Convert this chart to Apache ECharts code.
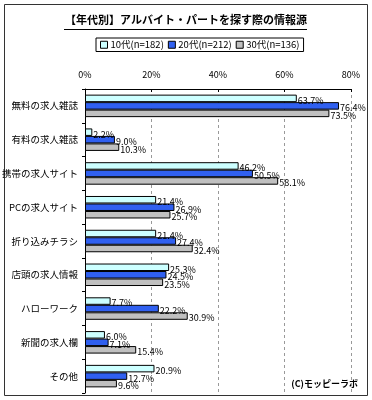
<!DOCTYPE html>
<html><head><meta charset="utf-8">
<script src="https://cdn.jsdelivr.net/npm/echarts@6/dist/echarts.min.js"></script>
<style>html,body{margin:0;padding:0;background:#fff;}#c{width:372px;height:400px;}</style>
</head><body><div id="c"></div>
<script>
var categories = ['無料の求人雑誌','有料の求人雑誌','携帯の求人サイト','PCの求人サイト','折り込みチラシ','店頭の求人情報','ハローワーク','新聞の求人欄','その他'];
var seriesNames = ['10代(n=182)','20代(n=212)','30代(n=136)'];
var teens = [63.7,2.2,46.2,21.4,21.4,25.3,7.7,6.0,20.9];
var twenties = [76.4,9.0,50.5,26.9,27.4,24.5,22.2,7.1,12.7];
var thirties = [73.5,10.3,58.1,25.7,32.4,23.5,30.9,15.4,9.6];
var xTicks = [0,20,40,60,80];

var FONT = '"Noto Sans CJK JP", sans-serif';
var colors = ['#CCFFFF','#3060F0','#C0C0C0'];
var chart = echarts.init(document.getElementById('c'), null, {renderer:'canvas'});
function mk(name, data, color){
  return {
    name: name, type:'bar', data: data, barWidth: 7.5, barGap: '0%',
    itemStyle:{color: color, borderColor:'#000', borderWidth:1},
    label:{show:true, position:'right', distance:1, offset:[0,2], fontSize:9, fontFamily:FONT, color:'#000',
      formatter:function(p){return p.value.toFixed(1)+'%';}},
    animation:false
  };
}
chart.setOption({
  backgroundColor:'#fff',
  animation:false,
  textStyle:{fontFamily:FONT},
  graphic:[
    {type:'rect', shape:{x:4.5,y:4.5,width:363,height:391}, style:{fill:'none', stroke:'#333', lineWidth:1}, z:-1},
    {type:'text', left:'center', top:14, style:{text:'【年代別】アルバイト・パートを探す際の情報源', font:'bold 11px '+FONT, fill:'#000'}},
    {type:'line', shape:{x1:64,y1:29.5,x2:307,y2:29.5}, style:{stroke:'#000', lineWidth:1}},
    {type:'text', right:14, top:379, style:{text:'(C)モッピーラボ', font:'bold 9px '+FONT, fill:'#000'}}
  ],
  legend:{
    top:38, left:96, itemWidth:7, itemHeight:7, itemGap:4,
    padding:[2,4,2,4], borderColor:'#000', borderWidth:1,
    textStyle:{fontSize:9.5, fontFamily:FONT, color:'#000', padding:[0,0,0,-2]},
    data: seriesNames.map(function(n,i){return {name:n, icon:'rect', itemStyle:{borderColor:'#000',borderWidth:1}};})
  },
  grid:{left:85, right:21, top:89, bottom:7, containLabel:false, outerBoundsMode:'none'},
  xAxis:{
    type:'value', position:'top', min:0, max:80, interval:20,
    axisLine:{show:true, lineStyle:{color:'#000'}},
    axisTick:{show:true, inside:true, length:3, lineStyle:{color:'#000'}},
    axisLabel:{fontSize:9, color:'#000', fontFamily:FONT, margin:10, formatter:function(v){return xTicks.indexOf(v)>=0 ? v+'%' : '';}},
    splitLine:{show:true, lineStyle:{color:'#999', type:[3,3]}}
  },
  yAxis:{
    type:'category', data:categories, inverse:true,
    axisLine:{show:true, lineStyle:{color:'#000'}},
    axisTick:{show:true, length:3, lineStyle:{color:'#000'}},
    axisLabel:{fontSize:9.5, color:'#000', fontFamily:FONT, margin:7}
  },
  series:[mk(seriesNames[0], teens, colors[0]), mk(seriesNames[1], twenties, colors[1]), mk(seriesNames[2], thirties, colors[2])]
});
</script></body></html>
